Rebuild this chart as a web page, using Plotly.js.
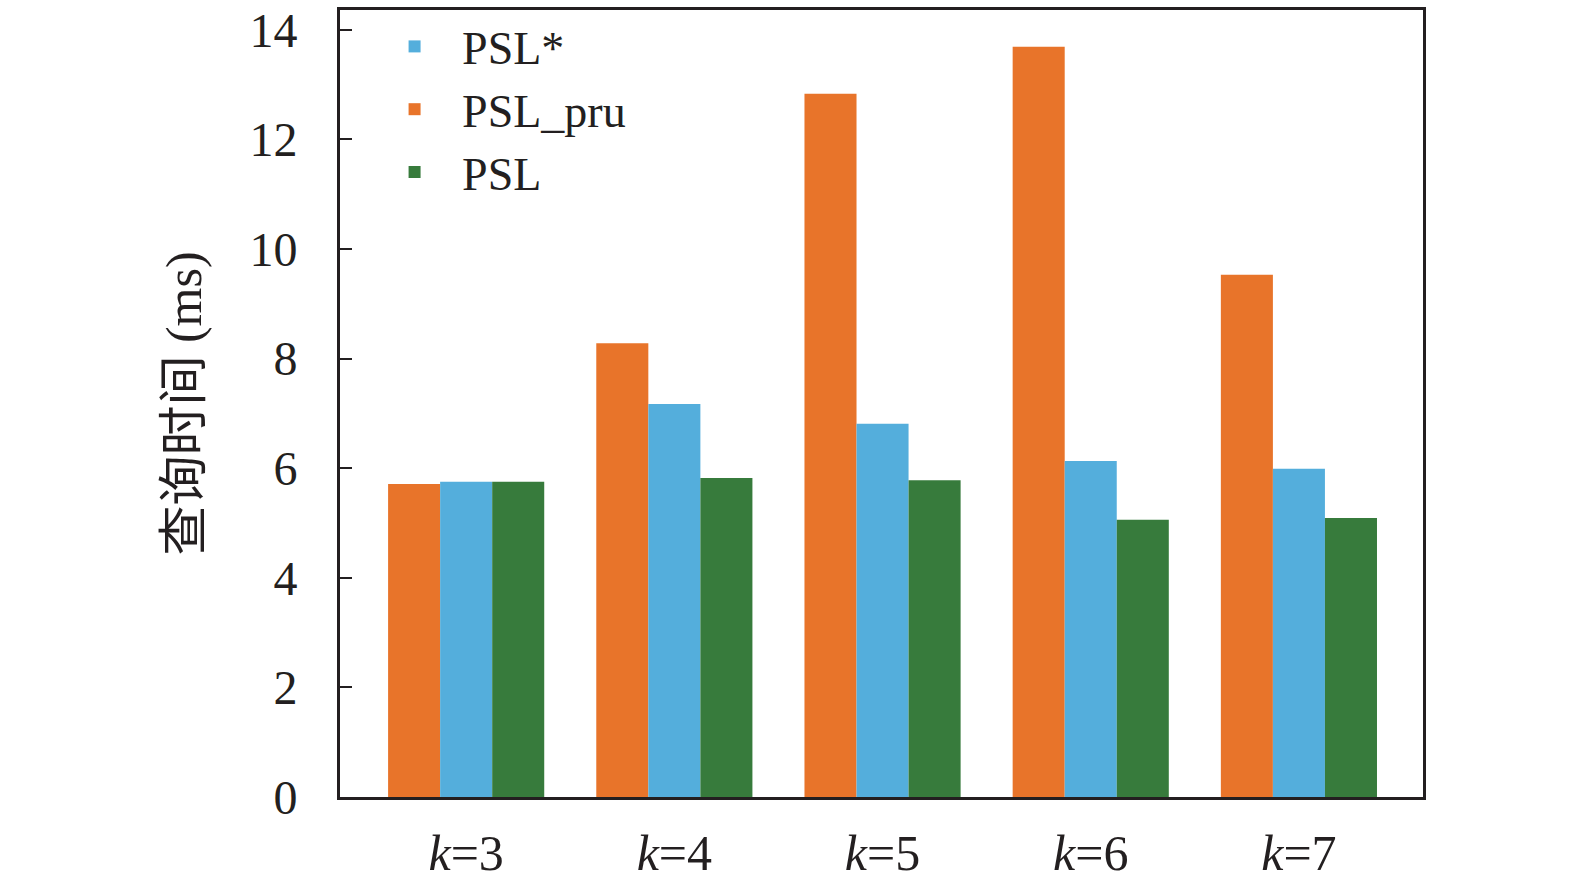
<!DOCTYPE html>
<html>
<head>
<meta charset="utf-8">
<script src="https://cdn.plot.ly/plotly-3.0.1.min.js"></script>
<style>
  body { margin: 0; background: #fff; }
  #myGraph { width: 1575px; height: 891px; }
</style>
</head>
<body>
<div id="myGraph"></div>
<script>
// categories and series
let categories = ['<i>k</i>=3', '<i>k</i>=4', '<i>k</i>=5', '<i>k</i>=6', '<i>k</i>=7'];
let psl_pru = [5.71, 8.28, 12.83, 13.69, 9.53];
let psl_star = [5.75, 7.17, 6.81, 6.13, 5.99];
let psl = [5.75, 5.82, 5.78, 5.06, 5.09];

let serif = 'Liberation Serif, Noto Sans CJK SC, serif';

let trace1 = {
    type: 'bar',
    name: 'PSL_pru',
    x: categories,
    y: psl_pru,
    legendrank: 2,
    marker: { color: '#E8742A' }
};

let trace2 = {
    type: 'bar',
    name: 'PSL*',
    x: categories,
    y: psl_star,
    legendrank: 1,
    marker: { color: '#54AEDC' }
};

let trace3 = {
    type: 'bar',
    name: 'PSL',
    x: categories,
    y: psl,
    legendrank: 3,
    marker: { color: '#377B3C' }
};

let data = [trace1, trace2, trace3];

let layout = {
    barmode: 'group',
    bargap: 0.25,
    bargroupgap: 0,
    width: 1575,
    height: 891,
    margin: { l: 340, r: 152, t: 10, b: 94 },
    paper_bgcolor: '#fff',
    plot_bgcolor: '#fff',
    font: { family: serif, size: 48, color: '#231F20' },
    showlegend: true,
    legend: {
        x: 0.025,
        y: 1.0,
        xanchor: 'left',
        yanchor: 'top',
        bgcolor: 'rgba(0,0,0,0)',
        font: { family: serif, size: 46, color: '#231F20' },
        tracegroupgap: 0,
        itemwidth: 85
    },
    xaxis: {
        type: 'category',
        range: [-0.606, 4.596],
        showline: true,
        mirror: true,
        linecolor: '#231F20',
        linewidth: 3,
        ticks: '',
        showgrid: false,
        zeroline: false,
        ticklabelstandoff: 10,
        tickfont: { family: serif, size: 50, color: '#231F20' }
    },
    yaxis: {
        range: [0, 14.36],
        dtick: 2,
        showline: true,
        mirror: true,
        linecolor: '#231F20',
        linewidth: 3,
        ticks: 'inside',
        ticklen: 12,
        tickwidth: 2,
        tickcolor: '#231F20',
        showgrid: false,
        zeroline: false,
        ticklabelstandoff: 30,
        tickfont: { family: serif, size: 48, color: '#231F20' },
        title: {
            text: '查询时间 (ms)',
            standoff: 32,
            font: { family: serif, size: 50, color: '#231F20' }
        }
    }
};

Plotly.newPlot('myGraph', data, layout, { displayModeBar: false, staticPlot: true });
</script>
</body>
</html>
